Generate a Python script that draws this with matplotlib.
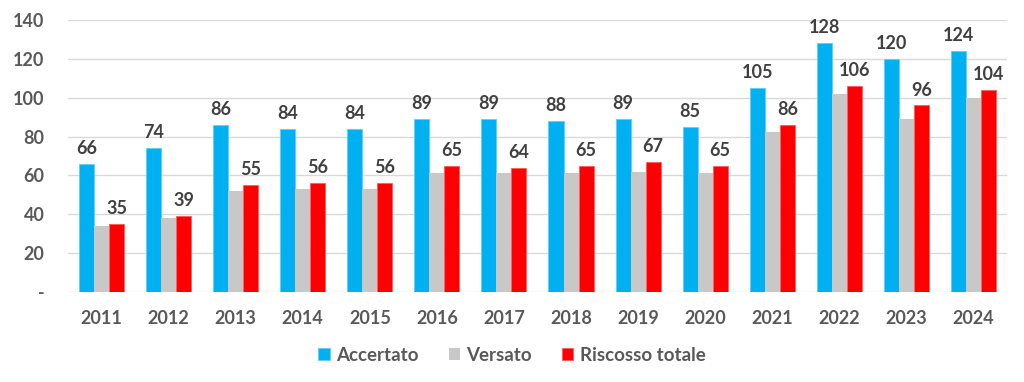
import numpy as np
import matplotlib.pyplot as plt

# dati (anni e valori)
anni = ["2011", "2012", "2013", "2014", "2015", "2016", "2017",
        "2018", "2019", "2020", "2021", "2022", "2023", "2024"]
accertato = [66, 74, 86, 84, 84, 89, 89, 88, 89, 85, 105, 128, 120, 124]
versato = [34, 38, 52, 53, 53, 61.5, 61, 61, 62, 61, 82.5, 102, 89, 100]
riscosso = [35, 39, 55, 56, 56, 65, 64, 65, 67, 65, 86, 106, 96, 104]

plt.rcParams['font.family'] = ['Lato', 'DejaVu Sans']

fig = plt.figure(figsize=(10.24, 3.82), dpi=100)
ax = fig.add_axes([0.0664, 0.2356, 0.917, 0.712])

x = np.arange(len(anni))
w = 0.224
b1 = ax.bar(x - w, accertato, w, color="#00B0F0", edgecolor="#5cd0f7", linewidth=0.6, label="Accertato", zorder=3)
b2 = ax.bar(x, versato, w, color="#C8C8C8", label="Versato", zorder=3)
b3 = ax.bar(x + w, riscosso, w, color="#FF0000", edgecolor="#ff5a5a", linewidth=0.6, label="Riscosso totale", zorder=3)

# etichette sopra le barre
for bars, vals in [(b1, accertato), (b3, riscosso)]:
    for r, v in zip(bars, vals):
        ax.annotate(str(v), (r.get_x() + r.get_width() / 2, v), xytext=(0, 5),
                    textcoords="offset points", ha="center", va="bottom",
                    fontsize=13, fontweight="bold", color="#404040")

ax.set_xlim(-0.5, len(anni) - 0.5)
ax.set_ylim(0, 140)
ax.set_yticks(range(0, 141, 20))
ax.set_yticklabels(["-"] + [str(v) for v in range(20, 141, 20)])
ax.set_xticks(x)
ax.set_xticklabels(anni)
ax.tick_params(axis="both", length=0, labelsize=13, labelcolor="#595959")
ax.tick_params(axis="y", pad=17)
ax.tick_params(axis="x", pad=13)
for lab in ax.get_xticklabels() + ax.get_yticklabels():
    lab.set_fontweight("bold")

ax.grid(axis="y", color="#d9d9d9", linewidth=1, zorder=0)
for s in ax.spines.values():
    s.set_visible(False)

leg = fig.legend(handles=[b1, b2, b3], loc="center", bbox_to_anchor=(0.5, 0.07), ncol=3,
                 frameon=False, fontsize=13.5, handlelength=0.6, handleheight=0.6,
                 columnspacing=1.6, handletextpad=0.35)
for t in leg.get_texts():
    t.set_color("#595959")
    t.set_fontweight("bold")

fig.savefig("out.png", dpi=100)
